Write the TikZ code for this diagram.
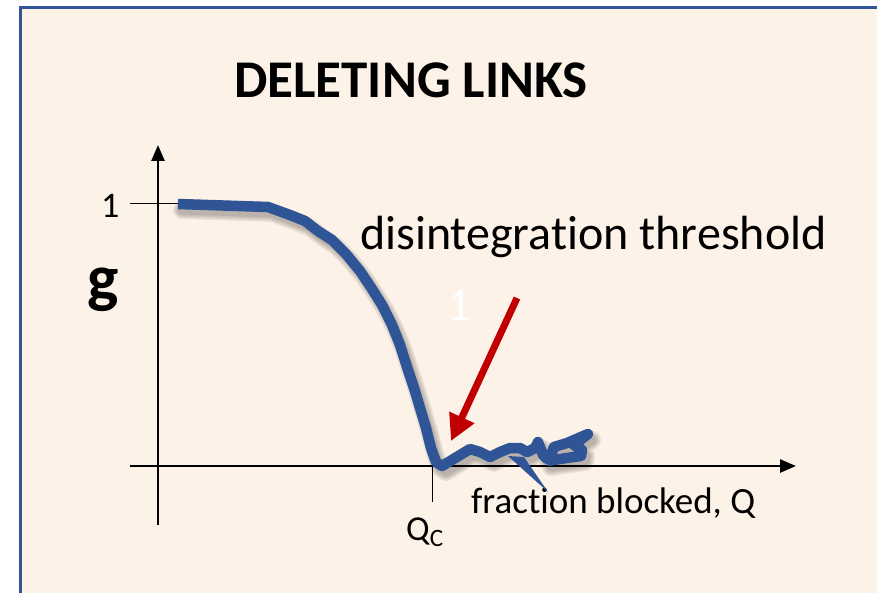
\documentclass[tikz,border=0pt]{standalone}
\usepackage{fontspec}
\setmainfont{Carlito}[Ligatures=NoCommon]
\usetikzlibrary{arrows.meta}
\definecolor{panel}{HTML}{FDF2E7}
\definecolor{frameblue}{HTML}{2F5597}
\definecolor{curveblue}{HTML}{2F5597}
\definecolor{arrowred}{HTML}{C00000}
\tikzset{
  axis/.style={line width=2.6pt, -{Triangle[length=16pt,width=13pt]}},
  tick/.style={line width=1pt},
  curve/.style={curveblue, line width=10.5pt, line join=round, line cap=butt},
  curveshadow/.style={black, opacity=0.07, line join=round, line cap=round},
  lbl/.style={inner sep=0pt, anchor=base west},
}
\begin{document}
\begin{tikzpicture}[x=1pt, y=-1pt]
\useasboundingbox (0,0) rectangle (877,593);
% panel background and its frame
\fill[white] (0,0) rectangle (877,593);
\fill[panel] (20,8) rectangle (877,593);
\draw[frameblue, line width=3pt] (20,593) -- (20,8) -- (877,8);

% title
\node[lbl, font=\bfseries\fontsize{53}{53}\selectfont] (title) at (234,98) {DELETING LINKS};

% axes
\coordinate (yb) at (158,525);
\coordinate (yt) at (158,145);
\coordinate (xl) at (130,466);
\coordinate (xr) at (796,466);
\draw[axis] (yb) -- (yt);
\draw[axis] (xl) -- (xr);

% tick at g = 1 and tick at the threshold
\coordinate (t1a) at (130,204);
\coordinate (t1b) at (190,204);
\draw[tick] (t1a) -- (t1b);
\coordinate (qa) at (432,443);
\coordinate (qb) at (432,502);
\draw[tick] (qa) -- (qb);

% axis labels
\node[lbl, font=\fontsize{36}{36}\selectfont] (one) at (101,218) {1};
\node[lbl, font=\bfseries\fontsize{66}{66}\selectfont] (g) at (87,301) {g};
\node[lbl, font=\fontsize{37}{37}\selectfont] (xlab) at (471,513) {fraction blocked, Q};
\node[lbl, font=\fontsize{35}{35}\selectfont] (qc) at (406,540) {Q\raisebox{-6pt}{\fontsize{25}{25}\selectfont C}};
\node[lbl, font=\fontsize{48}{48}\selectfont] (thr) at (360,250) {disintegration threshold};
\node[lbl, white, font=\fontsize{46}{46}\selectfont] (w1) at (447,320) {1};

% order parameter curve
\def\gpath{(178,204) -- (268,207) -- (290,215) -- (305,221) -- (318,231) -- (332,240)
  -- (346,254) -- (360,271) -- (372,289) -- (382,305) -- (392,325) -- (400,345)
  -- (407,367) -- (414,388) -- (420,408) -- (426,428) -- (431,448) -- (436,462)
  -- (442,466) -- (470,449) -- (480,452) -- (490,457) -- (500,452) -- (510,448)
  -- (520,448) -- (527,452) -- (535,448) -- (538,442) -- (543,455) -- (547,459)
  -- (551,455) -- (554,447) -- (567,443) -- (588,434) -- (574,445) -- (582,450)
  -- (581,456) -- (560,459) -- (547,461)}
\begin{scope}[shift={(4,6)}]
  \foreach \w in {18,15,12,9} {\draw[curveshadow, line width=\w pt] \gpath;}
\end{scope}
\draw[curve] \gpath;
% downward spike of the curve
\fill[curveblue] (508,456) -- (548,492) -- (524,457) -- cycle;

% arrow pointing at the threshold
\coordinate (atail) at (517,298);
\coordinate (ahead) at (451,441);
\draw[arrowred, line width=7pt, -{Triangle[length=26pt,width=26pt]}] (atail) -- (ahead);
\end{tikzpicture}
\end{document}
